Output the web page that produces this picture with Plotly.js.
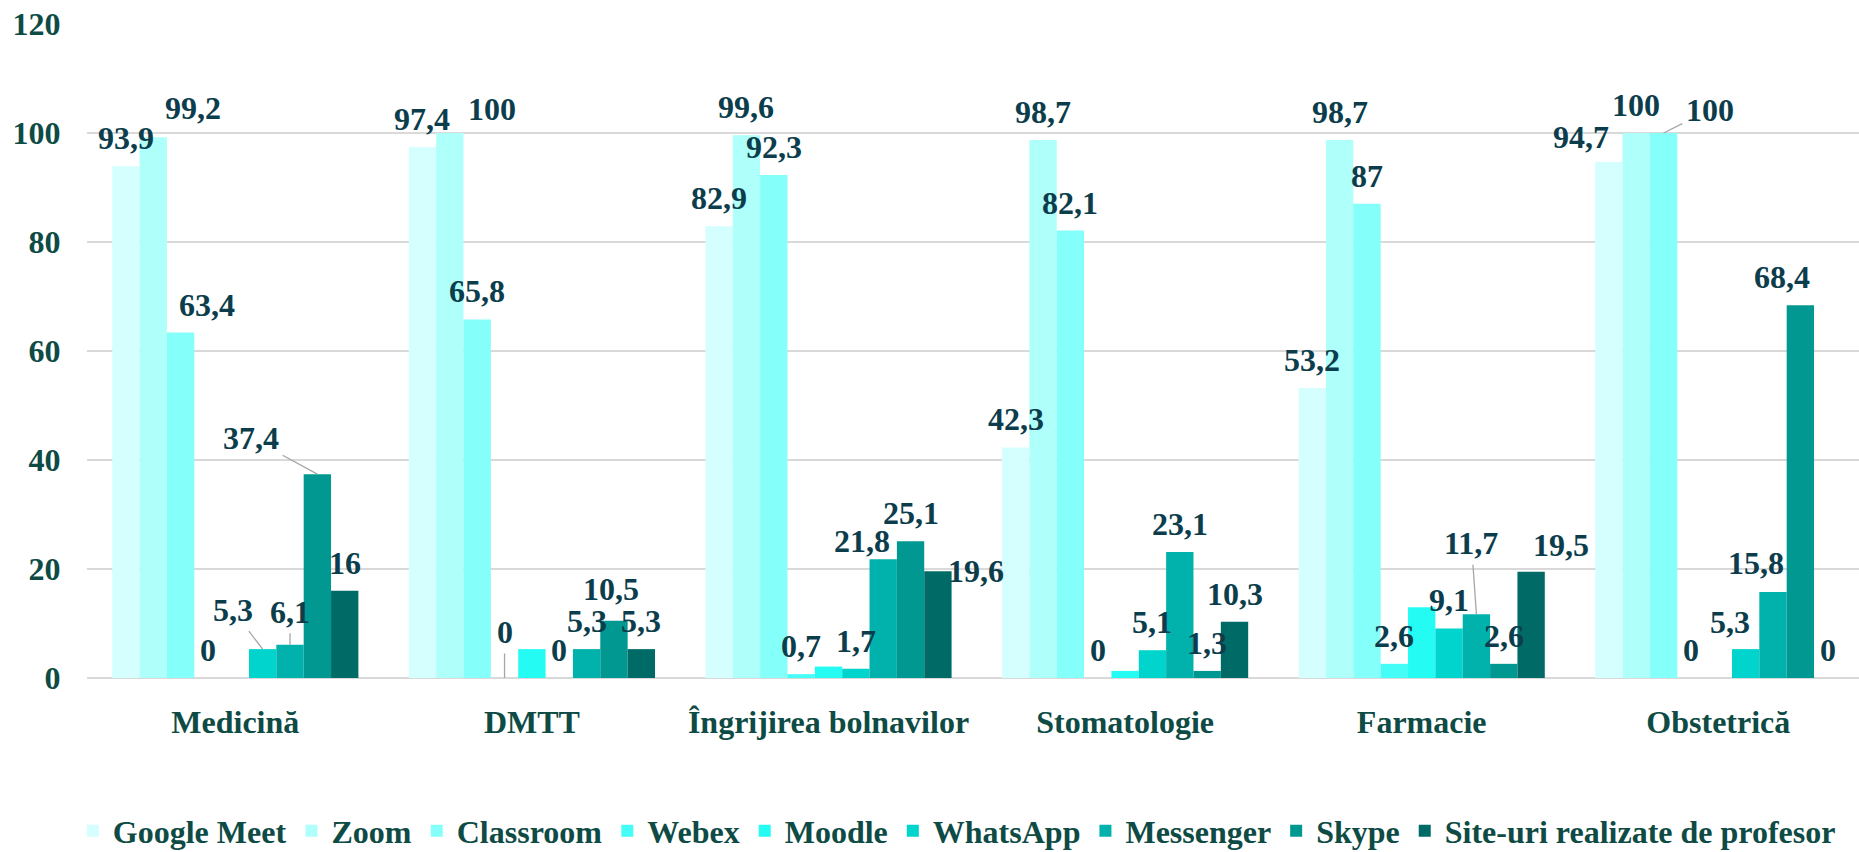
<!DOCTYPE html>
<html>
<head>
<meta charset="utf-8">
<script src="https://cdn.plot.ly/plotly-3.0.1.min.js"></script>
<style>
html,body{margin:0;padding:0;background:#fff;overflow:hidden;}
#chart{width:1859px;height:852px;}
</style>
</head>
<body>
<div id="chart"></div>
<script>
// ---- data ----
const categories = ['Medicină', 'DMTT', 'Îngrijirea bolnavilor', 'Stomatologie', 'Farmacie', 'Obstetrică'];
const seriesNames = ['Google Meet', 'Zoom', 'Classroom', 'Webex', 'Moodle', 'WhatsApp', 'Messenger', 'Skype', 'Site-uri realizate de profesor'];
const googleMeet = [93.9, 97.4, 82.9, 42.3, 53.2, 94.7];
const zoomVals   = [99.2, 100, 99.6, 98.7, 98.7, 100];
const classroom  = [63.4, 65.8, 92.3, 82.1, 87, 100];
const webex      = [0, 0, 0.7, 0, 2.6, 0];
const moodle     = [0, 5.3, 2.1, 1.3, 13.0, 0];
const whatsApp   = [5.3, 0, 1.7, 5.1, 9.1, 5.3];
const messenger  = [6.1, 5.3, 21.8, 23.1, 11.7, 15.8];
const skype      = [37.4, 10.5, 25.1, 1.3, 2.6, 68.4];
const siteProf   = [16, 5.3, 19.6, 10.3, 19.5, 0];
const yTickVals  = [0, 20, 40, 60, 80, 100, 120];
const labelledSeries = [true, true, true, true, false, true, true, true, true];

// ---- styles ----
const seriesValues = [googleMeet, zoomVals, classroom, webex, moodle, whatsApp, messenger, skype, siteProf];
const colors = ['#D5FFFE', '#AFFFFA', '#84FFFA', '#44FDF6', '#24FCF3', '#00D4CD', '#00B1AC', '#009891', '#006B66'];
const FONT = '"Liberation Serif", "Times New Roman", Times, serif';
const FS = 32;
const axisText = '#0E4B45';
const labelText = '#0B3D4C';
const bargap = 0.17;

// label placement tweaks (pixels): key = series-category
const defaultLift = 28;
const adjust = {
  '1-0': {dx: 40, dy: 29},
  '2-0': {dx: 26, dy: 27},
  '5-0': {dx: -30, dy: 39, leader: true},
  '6-0': {dx: 0, dy: 33, leader: true},
  '7-0': {dx: -66, dy: 36, leader: true},
  '1-1': {dx: 42, dy: 24},
  '3-1': {dx: 0, dy: 46, leader: true},
  '7-1': {dx: -3, dy: 32},
  '6-2': {dx: -21, dy: 18},
  '8-2': {dx: 38, dy: 0},
  '6-4': {dx: -5, dy: 71, leader: true},
  '8-4': {dx: 30, dy: 27},
  '0-5': {dx: -28, dy: 25},
  '2-5': {dx: 46, dy: 23, leader: true},
  '5-5': {dx: -16, dy: 27},
  '6-5': {dx: -17, dy: 29},
  '7-5': {dx: -18, dy: 28}
};

const fmt = v => String(v).replace('.', ',');

const traces = seriesNames.map((name, si) => ({
  type: 'bar',
  name: name,
  x: categories,
  y: seriesValues[si],
  marker: {color: colors[si], line: {width: 0}},
  hoverinfo: 'skip'
}));

const nS = seriesNames.length;
const slot = (1 - bargap) / nS;
const annotations = [];
seriesValues.forEach((vals, si) => {
  if (!labelledSeries[si]) return;
  vals.forEach((v, ci) => {
    if (v === null || v === undefined) return;
    const a = adjust[si + '-' + ci] || {dx: 0, dy: defaultLift};
    const xc = ci + (si - (nS - 1) / 2) * slot;
    const base = {
      x: xc, y: v, xref: 'x', yref: 'y',
      text: fmt(v),
      font: {family: FONT, size: FS, color: labelText, weight: 'bold'},
      xanchor: 'center', yanchor: 'middle'
    };
    if (a.leader) {
      Object.assign(base, {
        showarrow: true, ax: a.dx, ay: -a.dy, axref: 'pixel', ayref: 'pixel',
        arrowhead: 0, arrowwidth: 1.3, arrowcolor: '#A6A6A6', standoff: 0, startstandoff: 2
      });
    } else {
      Object.assign(base, {showarrow: false, xshift: a.dx, yshift: a.dy});
    }
    annotations.push(base);
  });
});

const plotW = 1859 - 87;
const catW = 296.6;

const layout = {
  width: 1859, height: 852,
  margin: {l: 87, r: 0, t: 24, b: 174, pad: 0, autoexpand: false},
  paper_bgcolor: '#ffffff', plot_bgcolor: '#ffffff',
  barmode: 'group', bargap: bargap, bargroupgap: 0,
  font: {family: FONT, size: FS, color: axisText, weight: 'bold'},
  showlegend: true,
  legend: {
    orientation: 'h', x: -0.008, xanchor: 'left', y: -0.234, yanchor: 'middle',
    font: {family: FONT, size: FS, color: axisText, weight: 'bold'},
    traceorder: 'normal', itemclick: false, itemdoubleclick: false,
    bgcolor: 'rgba(0,0,0,0)'
  },
  xaxis: {
    type: 'category',
    range: [-0.5, -0.5 + plotW / catW],
    showgrid: false, zeroline: false, showline: false,
    ticks: 'outside', ticklen: 16, tickcolor: 'rgba(0,0,0,0)',
    tickfont: {family: FONT, size: FS, color: axisText, weight: 'bold'},
    automargin: false,
    fixedrange: true
  },
  yaxis: {
    range: [0, 120],
    tickvals: yTickVals,
    ticktext: yTickVals.map(String),
    showgrid: true, gridcolor: '#D9D9D9', gridwidth: 1.4,
    zeroline: true, zerolinecolor: '#D9D9D9', zerolinewidth: 1.6,
    showline: false,
    ticks: 'outside', ticklen: 19, tickcolor: 'rgba(0,0,0,0)',
    tickfont: {family: FONT, size: FS, color: axisText, weight: 'bold'},
    automargin: false,
    fixedrange: true
  },
  annotations: annotations,
  hovermode: false
};

Plotly.newPlot('chart', traces, layout, {displayModeBar: false, staticPlot: true});
</script>
</body>
</html>
